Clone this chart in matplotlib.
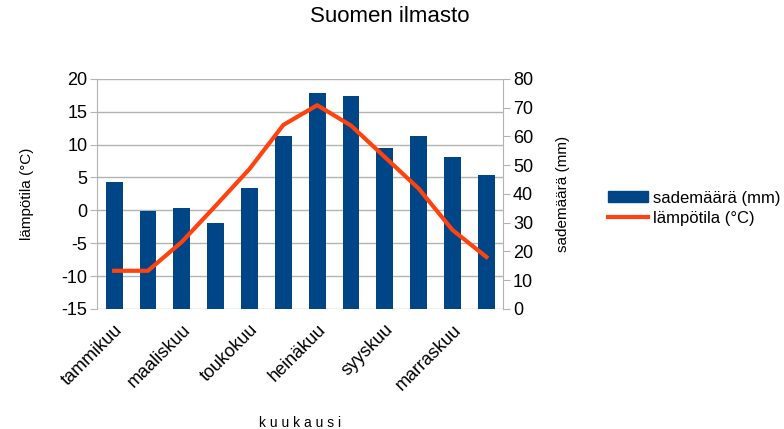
import matplotlib

matplotlib.use("Agg")
import matplotlib.pyplot as plt
from matplotlib.patches import Patch
from matplotlib.lines import Line2D

plt.rcParams.update(
    {
        "font.family": ["Liberation Sans", "DejaVu Sans"],
        "font.size": 13,
        "axes.unicode_minus": False,
    }
)

months = [
    "tammikuu", "helmikuu", "maaliskuu", "huhtikuu", "toukokuu", "kesäkuu",
    "heinäkuu", "elokuu", "syyskuu", "lokakuu", "marraskuu", "joulukuu",
]
rain_mm = [44, 34, 35, 30, 42, 60, 75, 74, 56, 60, 53, 46.5]
temp_c = [-9.2, -9.2, -4.8, 0.7, 6.3, 13.0, 16.0, 12.9, 8.1, 3.3, -3.0, -7.1]

BLUE = "#004586"
ORANGE = "#ff420e"
GRID = "#b3b3b3"

fig = plt.figure(figsize=(7.84, 4.29), dpi=100)
ax = fig.add_axes([0.124, 0.280, 0.518, 0.536])
ax_bar = ax.twinx()
ax_line = ax.twinx()

x = list(range(len(months)))

# base axis: temperature scale + grid
ax.set_ylim(-15, 20)
ax.set_yticks(range(-15, 21, 5))
ax.grid(axis="y", color=GRID, lw=1.0)
ax.set_axisbelow(True)
ax.set_xlim(-0.5, 11.5)
ax.set_xticks(x[::2])
ax.set_xticklabels(months[::2], rotation=45, ha="right", rotation_mode="anchor")
ax.tick_params(axis="x", length=0, pad=9)
ax.tick_params(axis="y", length=5, color=GRID, pad=2)
for s in ["top", "right", "bottom"]:
    ax.spines[s].set_visible(False)
ax.spines["left"].set_color(GRID)
ax.set_ylabel("lämpötila (°C)", fontsize=11, labelpad=20)
ax.set_xlabel("k u u k a u s i", fontsize=10, labelpad=16)

# bars on right axis
ax_bar.bar(x, rain_mm, width=0.5, color=BLUE, zorder=2)
ax_bar.set_ylim(0, 80)
ax_bar.set_yticks(range(0, 81, 10))
ax_bar.tick_params(axis="y", length=5, color=GRID, pad=2)
for s in ["top", "left", "bottom"]:
    ax_bar.spines[s].set_visible(False)
ax_bar.spines["right"].set_color(GRID)
ax_bar.set_ylabel("sademäärä (mm)", fontsize=11, labelpad=16)

# line on top, sharing the temperature scale
ax_line.plot(x, temp_c, color=ORANGE, lw=3, solid_joinstyle="round")
ax_line.set_ylim(ax.get_ylim())
ax_line.axis("off")

fig.suptitle("Suomen ilmasto", x=0.497, y=0.985, fontsize=16)

handles = [
    Patch(facecolor=BLUE, edgecolor=BLUE),
    Line2D([0], [0], color=ORANGE, lw=3),
]
fig.legend(
    handles,
    ["sademäärä (mm)", "lämpötila (°C)"],
    loc="center left",
    bbox_to_anchor=(0.757, 0.515),
    frameon=False,
    fontsize=12,
    handlelength=2.4,
    handleheight=0.6,
    handletextpad=0.3,
    labelspacing=0.3,
)

fig.savefig("out.png", dpi=100, facecolor="white")
